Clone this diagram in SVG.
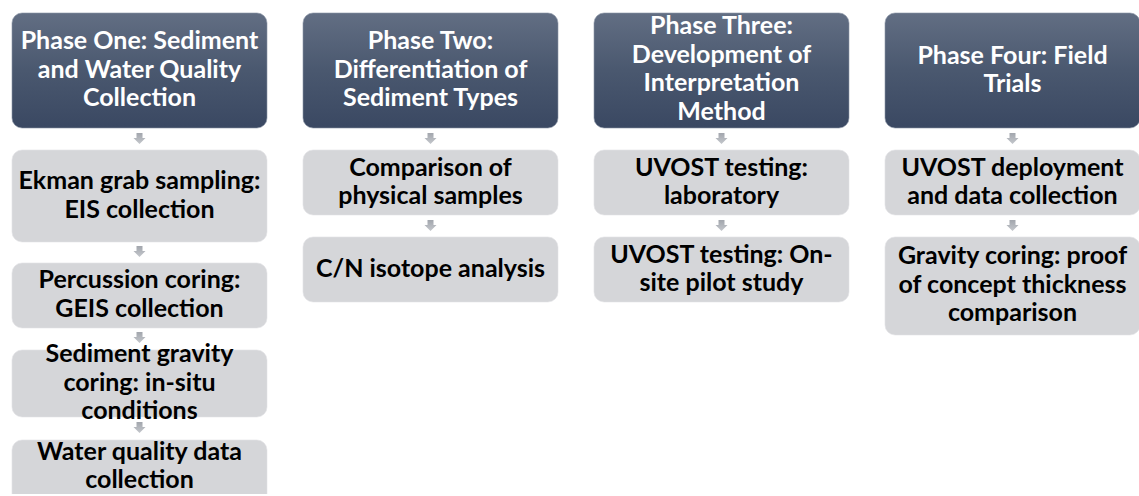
<svg xmlns="http://www.w3.org/2000/svg" width="1139" height="496" viewBox="0 0 1139 496">
<defs>
<linearGradient id="hg" x1="0" y1="0" x2="0" y2="1">
<stop offset="0" stop-color="#626e83"/>
<stop offset="0.5" stop-color="#4a586f"/>
<stop offset="1" stop-color="#3a4862"/>
</linearGradient>
<linearGradient id="ag" x1="0" y1="0" x2="0" y2="1">
<stop offset="0" stop-color="#a2a6ad"/>
<stop offset="1" stop-color="#c4c7cc"/>
</linearGradient>
<clipPath id="page"><rect x="0" y="0" width="1139" height="494"/></clipPath>
</defs>
<style>
.hdr{fill:url(#hg);stroke:#8a94a4;stroke-width:0.6}
.sub{fill:#d5d6d9;stroke:#e2e3e5;stroke-width:0.6}
.ht{font-family:Lato,"Open Sans",sans-serif;font-weight:bold;font-size:25px;fill:#ffffff;text-anchor:middle}
.st{font-family:Lato,"Open Sans",sans-serif;font-weight:bold;font-size:25px;fill:#000000;text-anchor:middle}
.arr{fill:url(#ag)}
</style>

<g id="connectors">
<path class="arr" d="M136.5,133 h6 v5 h3 l-6,6 l-6,-6 h3 z"/>
<path class="arr" d="M136.5,246 h6 v5 h3 l-6,6 l-6,-6 h3 z"/>
<path class="arr" d="M136.5,332 h6 v5 h3 l-6,6 l-6,-6 h3 z"/>
<path class="arr" d="M136.5,422 h6 v5 h3 l-6,6 l-6,-6 h3 z"/>
<path class="arr" d="M427.5,133 h6 v5 h3 l-6,6 l-6,-6 h3 z"/>
<path class="arr" d="M427.5,220 h6 v5 h3 l-6,6 l-6,-6 h3 z"/>
<path class="arr" d="M718.5,133 h6 v5 h3 l-6,6 l-6,-6 h3 z"/>
<path class="arr" d="M718.5,220 h6 v5 h3 l-6,6 l-6,-6 h3 z"/>
<path class="arr" d="M1009.5,133 h6 v5 h3 l-6,6 l-6,-6 h3 z"/>
<path class="arr" d="M1009.5,220 h6 v5 h3 l-6,6 l-6,-6 h3 z"/>
</g>

<g id="phase1">
<rect class="hdr" x="12" y="13" width="255" height="115" rx="10"/>
<text class="ht" x="139.5" y="49">Phase One: Sediment</text>
<text class="ht" x="139.5" y="77.5">and Water Quality</text>
<text class="ht" x="139.5" y="106">Collection</text>
</g>
<g id="p1s1">
<rect class="sub" x="12" y="150" width="255" height="92" rx="10"/>
<text class="st" x="139.5" y="189">Ekman grab sampling:</text>
<text class="st" x="139.5" y="217.5">EIS collection</text>
</g>
<g id="p1s2">
<rect class="sub" x="12" y="263" width="255" height="65" rx="10"/>
<text class="st" x="139.5" y="288">Percussion coring:</text>
<text class="st" x="139.5" y="316.5">GEIS collection</text>
</g>
<g id="p1s3">
<rect class="sub" x="12" y="350" width="255" height="67" rx="10"/>
<text class="st" x="139.5" y="362">Sediment gravity</text>
<text class="st" x="139.5" y="390.5">coring: in-situ</text>
<text class="st" x="139.5" y="419">conditions</text>
</g>
<g id="p1s4" clip-path="url(#page)">
<rect class="sub" x="12" y="440" width="255" height="70" rx="10"/>
<text class="st" x="139.5" y="460">Water quality data</text>
<text class="st" x="139.5" y="488">collection</text>
</g>

<g id="phase2">
<rect class="hdr" x="303" y="13" width="255" height="115" rx="10"/>
<text class="ht" x="430.5" y="49">Phase Two:</text>
<text class="ht" x="430.5" y="77.5">Differentiation of</text>
<text class="ht" x="430.5" y="106">Sediment Types</text>
</g>
<g id="p2s1">
<rect class="sub" x="303" y="150" width="255" height="65" rx="10"/>
<text class="st" x="430.5" y="175.5">Comparison of</text>
<text class="st" x="430.5" y="204">physical samples</text>
</g>
<g id="p2s2">
<rect class="sub" x="303" y="237" width="255" height="65" rx="10"/>
<text class="st" x="430.5" y="277">C/N isotope analysis</text>
</g>

<g id="phase3">
<rect class="hdr" x="594" y="13" width="255" height="115" rx="10"/>
<text class="ht" x="721.5" y="34">Phase Three:</text>
<text class="ht" x="721.5" y="62.5">Development of</text>
<text class="ht" x="721.5" y="91">Interpretation</text>
<text class="ht" x="721.5" y="119.5">Method</text>
</g>
<g id="p3s1">
<rect class="sub" x="594" y="150" width="255" height="65" rx="10"/>
<text class="st" x="721.5" y="175.5">UVOST testing:</text>
<text class="st" x="721.5" y="204">laboratory</text>
</g>
<g id="p3s2">
<rect class="sub" x="594" y="237" width="255" height="65" rx="10"/>
<text class="st" x="721.5" y="262.5">UVOST testing: On-</text>
<text class="st" x="721.5" y="291">site pilot study</text>
</g>

<g id="phase4">
<rect class="hdr" x="885" y="13" width="255" height="115" rx="10"/>
<text class="ht" x="1012.5" y="63.5">Phase Four: Field</text>
<text class="ht" x="1012.5" y="92">Trials</text>
</g>
<g id="p4s1">
<rect class="sub" x="885" y="150" width="255" height="65" rx="10"/>
<text class="st" x="1012.5" y="175.5">UVOST deployment</text>
<text class="st" x="1012.5" y="204">and data collection</text>
</g>
<g id="p4s2">
<rect class="sub" x="885" y="237" width="255" height="98" rx="10"/>
<text class="st" x="1012.5" y="264">Gravity coring: proof</text>
<text class="st" x="1012.5" y="292.5">of concept thickness</text>
<text class="st" x="1012.5" y="321">comparison</text>
</g>
</svg>
